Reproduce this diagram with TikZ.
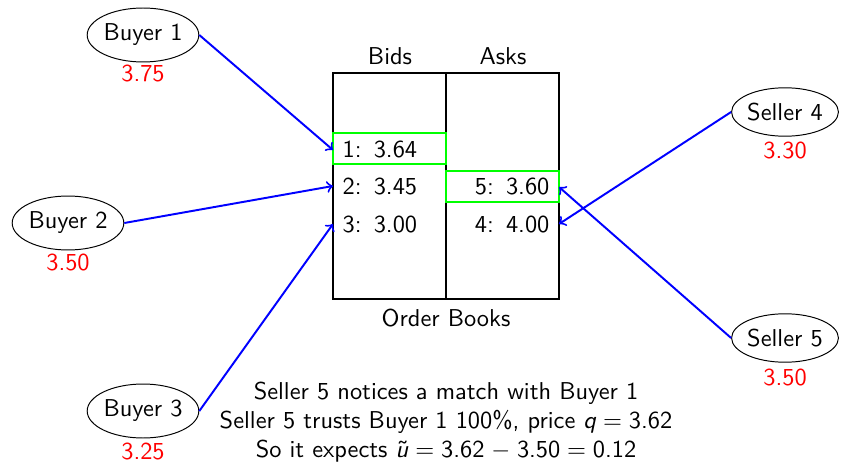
\documentclass[tikz,border=0pt]{standalone}
\usetikzlibrary{shapes.geometric}
\begin{document}
\begin{tikzpicture}[x=0.41pt,y=-0.41pt,
  font=\sffamily,
  trader/.style={ellipse,draw,line width=0.4pt,inner xsep=0pt,inner ysep=3.33pt},
  price/.style={text=red},
  order/.style={blue,line width=0.8pt,->},
  hit/.style={draw=green,line width=0.9pt,minimum width=46.3pt,minimum height=12.7pt,inner sep=0pt}]
\useasboundingbox (0,0) rectangle (842,463);

% traders and their private values
\node[trader] (b1) at (143,35) {Buyer 1};
\node[price] (v1) at (143,74) {3.75};
\node[trader] (b2) at (68,223) {Buyer 2};
\node[price] (v2) at (68,262) {3.50};
\node[trader] (b3) at (143,411) {Buyer 3};
\node[price] (v3) at (143,451) {3.25};
\node[trader] (s4) at (785,112) {Seller 4};
\node[price] (v4) at (785,151) {3.30};
\node[trader] (s5) at (785,338) {Seller 5};
\node[price] (v5) at (785,377) {3.50};

% order books
\draw[line width=0.5pt] (333,73) rectangle (559,299);
\draw[line width=0.5pt] (446,73) -- (446,299);
\node (bids) at (390,56) {Bids};
\node (asks) at (503,56) {Asks};
\node (books) at (446,318) {Order Books};

\node[hit] (r1) at (389.5,148.5) {};
\node[hit] (r5) at (502.5,186.5) {};
\node[anchor=west] (t1) at (334,150) {1:\enspace3.64};
\node[anchor=west] (t2) at (334,187) {2:\enspace3.45};
\node[anchor=west] (t3) at (334,224) {3:\enspace3.00};
\node[anchor=east] (t5) at (558,187) {5:\enspace3.60};
\node[anchor=east] (t4) at (558,224) {4:\enspace4.00};

\coordinate (in1) at (333,150);
\coordinate (in2) at (333,186);
\coordinate (in3) at (333,224);
\coordinate (in5) at (559,187);
\coordinate (in4) at (559,224);

% submitted orders
\draw[order] (b1.east) -- (in1);
\draw[order] (b2.east) -- (in2);
\draw[order] (b3.east) -- (in3);
\draw[order] (s4.west) -- (in4);
\draw[order] (s5.west) -- (in5);

% commentary
\node[align=center] (note) at (446,422) {Seller 5 notices a match with Buyer 1\\
  Seller 5 trusts Buyer 1 100\%, price \textsl{q}$\;=\;$3.62\\
  So it expects \~{\textsl{u}}$\;=\;$3.62$\;-\;$3.50$\;=\;$0.12};
\end{tikzpicture}
\end{document}
